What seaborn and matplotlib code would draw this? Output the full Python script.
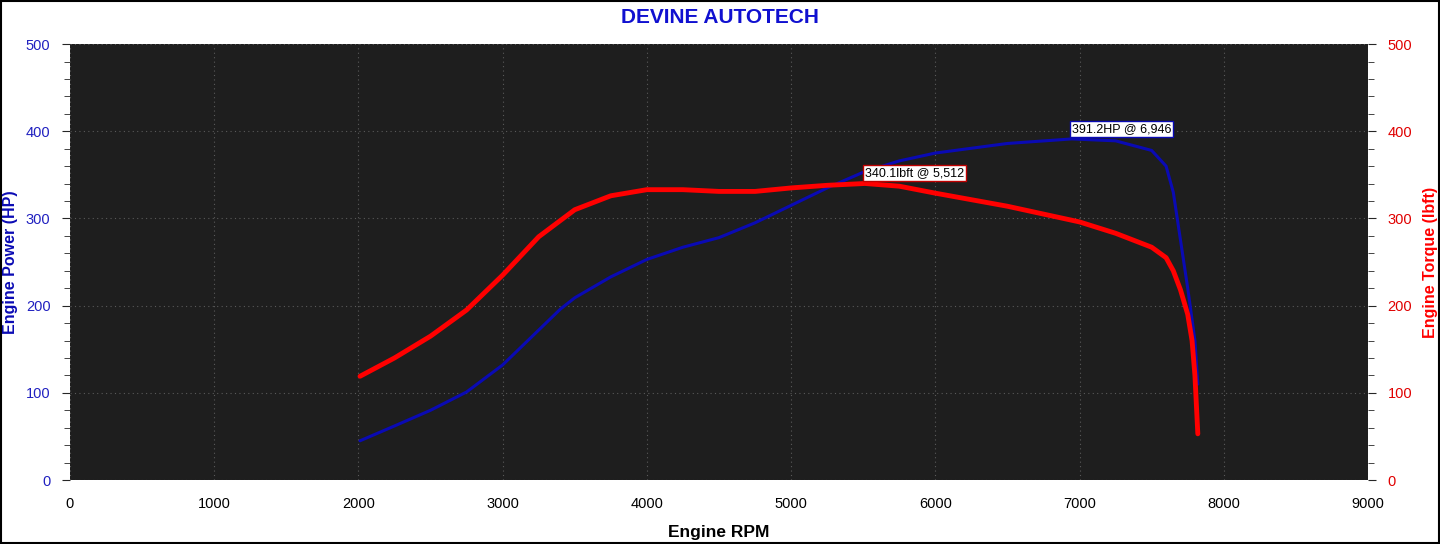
import matplotlib
matplotlib.use("Agg")
import matplotlib.pyplot as plt
import seaborn as sns
import pandas as pd
from matplotlib.ticker import MultipleLocator

rpm_hp = [2011, 2250, 2500, 2750, 3000, 3250, 3400, 3500, 3750, 4000, 4250, 4500, 4750, 5000, 5250, 5500, 5750, 6000, 6500, 6946, 7250, 7500, 7600, 7650, 7700, 7750, 7800, 7820]
hp = [45, 62, 80, 101, 132, 172, 196, 209, 233, 253, 267, 278, 295, 315, 335, 353, 366, 375, 386, 391.2, 389, 378, 360, 330, 275, 220, 160, 110]
rpm_tq = [2011, 2250, 2500, 2750, 3000, 3250, 3500, 3750, 4000, 4250, 4500, 4750, 5000, 5250, 5512, 5750, 6000, 6500, 7000, 7250, 7500, 7600, 7650, 7700, 7750, 7780, 7800, 7820]
tq = [119, 140, 165, 195, 235, 279, 310, 326, 333, 333, 331, 331, 335, 338, 340.1, 337, 329, 314, 296, 283, 267, 255, 240, 218, 190, 160, 120, 53]

BLUE = "#0a0ab4"
RED = "#ff0000"

sns.set_style("white")
plt.rcParams['font.family'] = ['Liberation Sans', 'DejaVu Sans']
fig = plt.figure(figsize=(14.4, 5.44), dpi=100)
ax = fig.add_axes([0.0486, 0.1176, 0.9014, 0.8014])
ax2 = ax.twinx()
ax.set_facecolor("#1e1e1e")
ax2.set_facecolor("none")
ax.set_zorder(0)
ax2.set_zorder(1)

sns.lineplot(x=rpm_hp, y=hp, ax=ax, color=BLUE, linewidth=2.2, sort=False)
sns.lineplot(x=rpm_tq, y=tq, ax=ax2, color=RED, linewidth=3.5, sort=False)

for a in (ax, ax2):
    a.set_xlim(0, 9000)
    a.set_ylim(0, 500)
    a.yaxis.set_major_locator(MultipleLocator(100))
    a.yaxis.set_minor_locator(MultipleLocator(20))
ax.xaxis.set_major_locator(MultipleLocator(1000))
ax.xaxis.set_minor_locator(MultipleLocator(200))
ax.grid(True, which="major", color="#5a5a5a", linestyle=(0, (1, 3)), linewidth=0.8)
ax.tick_params(axis="x", which="both", direction="out", length=4, colors="black", labelsize=10.5, pad=8)
ax.tick_params(axis="y", which="major", length=6, labelcolor="#2020c0", labelsize=10.5, left=True, pad=8)
ax.tick_params(axis="y", which="minor", length=4, left=True)
ax2.tick_params(axis="y", which="major", length=6, labelcolor="#e00000", labelsize=10.5, right=True, pad=8)
ax2.tick_params(axis="y", which="minor", length=4, right=True)
for a in (ax, ax2):
    for s in a.spines.values():
        s.set_visible(False)

ax.set_xlabel("Engine RPM", fontsize=12.5, fontweight="bold", color="black", labelpad=10)
ax.set_ylabel("Engine Power (HP)", fontsize=11.5, fontweight="bold", color=BLUE, labelpad=6)
ax2.set_ylabel("Engine Torque (lbft)", fontsize=11.5, fontweight="bold", color=RED, labelpad=8)
fig.suptitle("DEVINE AUTOTECH", x=0.5, y=0.985, fontsize=15, fontweight="bold", color="#1010d0")

ax.annotate("391.2HP @ 6,946", xy=(rpm_hp[19], hp[19]), xytext=(0, 3), textcoords="offset points",
            ha="left", va="bottom", fontsize=9, color="black", zorder=5,
            bbox=dict(boxstyle="square,pad=0.15", fc="white", ec=BLUE, lw=1))
ax2.annotate("340.1lbft @ 5,512", xy=(rpm_tq[14], tq[14]), xytext=(0, 3), textcoords="offset points",
             ha="left", va="bottom", fontsize=9, color="black", zorder=5,
             bbox=dict(boxstyle="square,pad=0.15", fc="white", ec="#c00000", lw=1))

fig.patches.append(plt.Rectangle((0.0005, 0.001), 0.999, 0.998, transform=fig.transFigure,
                                 fill=False, ec="black", lw=1.5))
fig.savefig("out.png", dpi=100, facecolor="white")
